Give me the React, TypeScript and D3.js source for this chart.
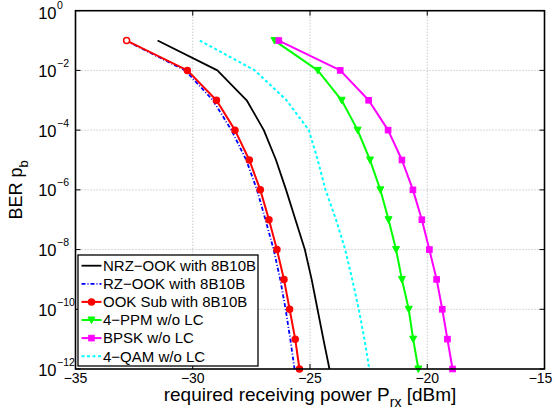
import React from 'react';
import * as d3 from 'd3';

// BER levels shared by every curve (one point per decade)
const berLevels = [1e-1, 1e-2, 1e-3, 1e-4, 1e-5, 1e-6, 1e-7, 1e-8, 1e-9, 1e-10, 1e-11, 1e-12];

// required receiving power [dBm] at each BER level
const nrzOok = [-31.5, -28.95, -27.7, -26.97, -26.45, -26.02, -25.62, -25.22, -24.93, -24.68, -24.43, -24.17];
const rzOok = [-32.85, -30.32, -29.14, -28.35, -27.72, -27.26, -26.9, -26.55, -26.27, -26.04, -25.84, -25.66];
const ookSub = [-32.82, -30.23, -28.99, -28.2, -27.59, -27.12, -26.75, -26.41, -26.11, -25.87, -25.63, -25.45];
const ppm4 = [-26.51, -24.67, -23.65, -22.97, -22.44, -22.0, -21.65, -21.33, -21.08, -20.79, -20.6, -20.38];
const bpsk = [-26.33, -23.71, -22.5, -21.67, -21.08, -20.61, -20.23, -19.91, -19.6, -19.36, -19.14, -18.92];
const qam4 = [-29.7, -27.35, -26.0, -25.05, -24.67, -24.34, -23.89, -23.5, -23.2, -22.92, -22.68, -22.47];

const xTicks = [-35, -30, -25, -20, -15];
const yTickExps = [0, -2, -4, -6, -8, -10, -12];

const seriesNames = [
  'NRZ\u2212OOK with 8B10B',
  'RZ\u2212OOK with 8B10B',
  'OOK Sub with 8B10B',
  '4\u2212PPM w/o LC',
  'BPSK w/o LC',
  '4\u2212QAM w/o LC',
];

const W = 555;
const H = 416;
const left = 75.5;
const right = 544.5;
const top = 10.7;
const bottom = 369;
const font = 'Liberation Sans, Arial, Helvetica, sans-serif';

const x = d3.scaleLinear().domain([-35, -15]).range([left, right]);
const y = d3.scaleLog().domain([1, 1e-12]).range([top, bottom]);

type Series = {
  name: string;
  xs: number[];
  color: string;
  width: number;
  dash?: string;
  marker?: 'circle' | 'tri' | 'square';
};

const series: Series[] = [
  { name: seriesNames[0], xs: nrzOok, color: '#000000', width: 1.8 },
  { name: seriesNames[1], xs: rzOok, color: '#0000ff', width: 1.8, dash: '4 2 1 2' },
  { name: seriesNames[2], xs: ookSub, color: '#ff0000', width: 2, marker: 'circle' },
  { name: seriesNames[3], xs: ppm4, color: '#00ff00', width: 2, marker: 'tri' },
  { name: seriesNames[4], xs: bpsk, color: '#ff00ff', width: 2, marker: 'square' },
  { name: seriesNames[5], xs: qam4, color: '#00ffff', width: 2, dash: '3 2.5' },
];

const line = d3
  .line<[number, number]>()
  .x((d) => x(d[0]))
  .y((d) => y(d[1]));

const Marker = ({ kind, cx, cy, color, hollow }: { kind: string; cx: number; cy: number; color: string; hollow?: boolean }) => {
  if (kind === 'circle')
    return <circle cx={cx} cy={cy} r={3} fill={hollow ? '#fff' : color} stroke={color} strokeWidth={1.5} />;
  if (kind === 'tri')
    return <path d={`M${cx - 3.5},${cy - 3} L${cx + 3.5},${cy - 3} L${cx},${cy + 3.5} Z`} fill={color} stroke={color} strokeWidth={1} />;
  return <rect x={cx - 2.8} y={cy - 2.8} width={5.6} height={5.6} fill={color} stroke={color} strokeWidth={1} />;
};

const App = () => {
  return (
    <svg width={W} height={H} style={{ position: 'absolute', left: 0, top: 0, background: '#fff' }} fontFamily={font}>
      <rect x={0} y={0} width={W} height={H} fill="#fff" />
      {/* grid */}
      {xTicks.slice(1, -1).map((t) => (
        <line key={'gx' + t} x1={x(t)} x2={x(t)} y1={top} y2={bottom} stroke="#b3b3b3" strokeDasharray="1 2" />
      ))}
      {yTickExps.slice(1, -1).map((e) => (
        <line key={'gy' + e} x1={left} x2={right} y1={y(10 ** e)} y2={y(10 ** e)} stroke="#b3b3b3" strokeDasharray="1 2" />
      ))}
      {/* ticks */}
      {xTicks.map((t, i) => (
        <g key={'tx' + t}>
          <line x1={x(t)} x2={x(t)} y1={bottom} y2={bottom - 5} stroke="#000" />
          <line x1={x(t)} x2={x(t)} y1={top} y2={top + 5} stroke="#000" />
          <text x={i === xTicks.length - 1 ? x(t) - 4 : x(t)} y={382.5} fontSize={14} textAnchor="middle">
            {t < 0 ? '\u2212' + Math.abs(t) : t}
          </text>
        </g>
      ))}
      {yTickExps.map((e) => {
        const ty = y(10 ** e) + (e === 0 ? 2 : 0);
        return (
          <g key={'ty' + e}>
            <line x1={left} x2={left + 5} y1={y(10 ** e)} y2={y(10 ** e)} stroke="#000" />
            <line x1={right} x2={right - 5} y1={y(10 ** e)} y2={y(10 ** e)} stroke="#000" />
            <text x={56.5} y={ty + 6.5} fontSize={16.5} textAnchor="end">10</text>
            <text x={57} y={ty - 3.5} fontSize={10.5} textAnchor="start">
              {e < 0 ? '\u2212' + Math.abs(e) : e}
            </text>
          </g>
        );
      })}
      {/* curves */}
      <g>
        {series.map((s) => {
          const pts: [number, number][] = s.xs.map((v, i) => [v, berLevels[i]]);
          return (
            <g key={s.name}>
              <path d={line(pts) || ''} fill="none" stroke={s.color} strokeWidth={s.width} strokeDasharray={s.dash} strokeLinejoin="round" />
              {s.marker &&
                pts.map((p, i) => (
                  <Marker key={i} kind={s.marker!} cx={x(p[0])} cy={y(p[1])} color={s.color} hollow={s.marker === 'circle' && i === 0} />
                ))}
            </g>
          );
        })}
      </g>
      {/* axes box */}
      <rect x={left} y={top} width={right - left} height={bottom - top} fill="none" stroke="#000" strokeWidth={1.6} />
      {/* legend */}
      <g>
        <rect x={78} y={255} width={180} height={111} fill="#fff" stroke="#000" strokeWidth={1.3} />
        {series.map((s, i) => {
          const cy = 265.7 + i * 18.1;
          return (
            <g key={'lg' + s.name}>
              <line x1={81.5} x2={101.5} y1={cy} y2={cy} stroke={s.color} strokeWidth={s.width} strokeDasharray={s.dash} />
              {s.marker && <Marker kind={s.marker} cx={91.5} cy={cy} color={s.color} />}
              <text x={103} y={cy + 5.3} fontSize={15}>{s.name}</text>
            </g>
          );
        })}
      </g>
      {/* axis labels */}
      <text x={(left + right) / 2} y={401} fontSize={19} textAnchor="middle">
        required receiving power P<tspan fontSize={14} dy={6}>rx</tspan>
        <tspan dy={-6}> [dBm]</tspan>
      </text>
      <text transform={`translate(22,${(top + bottom) / 2}) rotate(-90)`} fontSize={18} textAnchor="middle">
        BER p<tspan fontSize={13} dy={6}>b</tspan>
      </text>
    </svg>
  );
};

export default App;
